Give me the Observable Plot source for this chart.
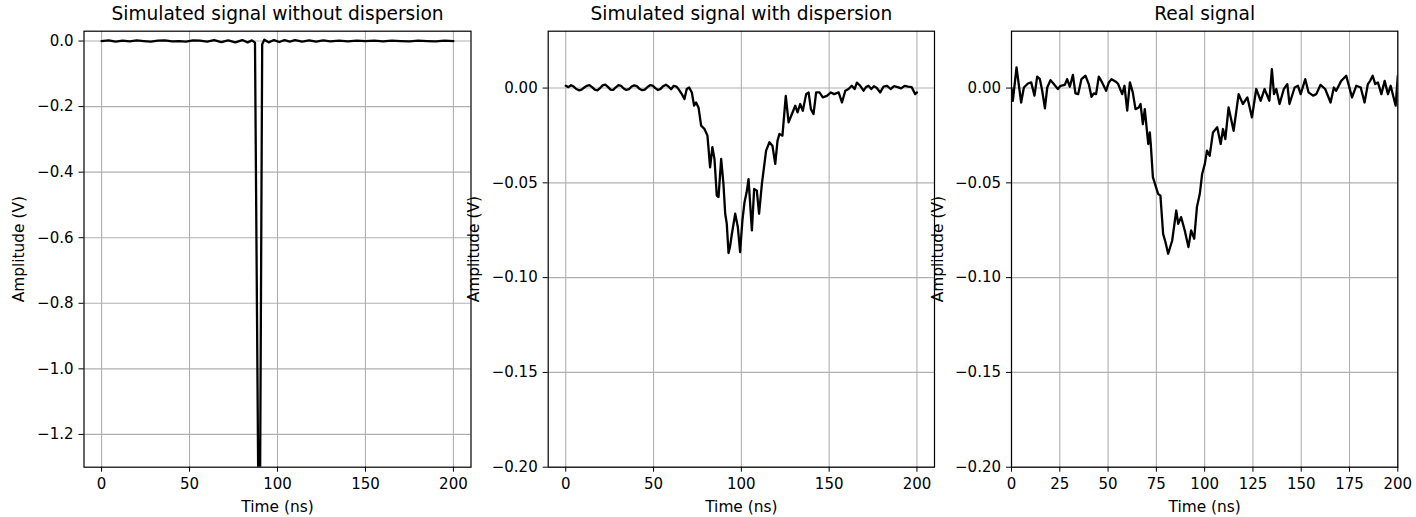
<!DOCTYPE html>
<html>
<head>
<meta charset="utf-8">
<script src="https://cdn.jsdelivr.net/npm/d3@7"></script>
<script src="https://cdn.jsdelivr.net/npm/@observablehq/plot@0.6"></script>
<style>
  html, body { margin: 0; padding: 0; background: #ffffff; }
  #chart { position: relative; width: 1416px; height: 517px; background: #ffffff; }
  #chart svg { position: absolute; left: 0; top: 0; overflow: visible; }
</style>
</head>
<body>
<div id="chart"></div>
<script>
// ---------- Data ----------
const titles = ["Simulated signal without dispersion", "Simulated signal with dispersion", "Real signal"];
const xLabel = "Time (ns)";
const yLabel = "Amplitude (V)";

const ticksX1 = [0, 50, 100, 150, 200];
const ticksX2 = [0, 50, 100, 150, 200];
const ticksX3 = [0, 25, 50, 75, 100, 125, 150, 175, 200];
const ticksY1 = [0, -0.2, -0.4, -0.6, -0.8, -1.0, -1.2];
const ticksY23 = [0, -0.05, -0.10, -0.15, -0.20];

// Panel 1: simulated without dispersion
const time1 = [0, 4, 8, 12, 16, 20, 24, 28, 32, 36, 40, 44, 48, 52, 56, 60, 64, 68, 72, 76, 80, 83, 85.5, 87.2, 89.2, 90.0, 91.3, 92.5, 95, 98, 101, 104, 107, 110, 114, 118, 122, 126, 130, 135, 140, 145, 150, 155, 160, 165, 170, 175, 180, 185, 190, 195, 200];
const amp1 = [0.000, 0.002, -0.002, 0.001, -0.001, 0.002, 0.000, -0.002, 0.001, 0.002, -0.001, 0.000, -0.002, 0.002, 0.001, -0.002, 0.003, -0.003, 0.002, -0.004, 0.003, -0.004, 0.002, -0.005, -1.45, -1.45, -0.010, 0.004, -0.004, 0.003, -0.003, 0.003, -0.002, 0.003, -0.002, 0.002, -0.002, 0.002, -0.001, 0.001, -0.001, 0.001, 0.000, 0.001, -0.001, 0.001, 0.000, -0.001, 0.001, 0.000, -0.001, 0.001, 0.000];

// Panel 2: simulated with dispersion
const time2 = [0, 1.5, 3, 4.5, 6, 7.5, 9, 10.5, 12, 13.5, 15, 16.5, 18, 19.5, 21, 22.5, 24, 25.5, 27, 28.5, 30, 31.5, 33, 34.5, 36, 37.5, 39, 40.5, 42, 43.5, 45, 46.5, 48, 49.5, 51, 52.5, 54, 55.5, 57, 58.5, 60, 61.5, 63, 64.2, 66.1, 67.6, 68.9, 70.3, 71.8, 73.1, 74.2, 75.6, 77.1, 79.0, 80.7, 82.2, 83.5, 84.7, 86.0, 87.0, 88.5, 89.8, 90.8, 91.7, 92.7, 93.5, 94.6, 96.5, 98.0, 99.3, 100.6, 101.8, 103.0, 104.1, 106.0, 107.3, 108.8, 110.1, 111.7, 114.1, 116.0, 117.7, 119.3, 120.6, 121.7, 123.4, 125.3, 126.9, 128.8, 130.7, 132.0, 133.5, 135.0, 136.9, 138.3, 139.6, 141.1, 142.6, 144.5, 146.4, 148.7, 151.0, 152.9, 155.4, 157.3, 159.2, 161.0, 162.9, 164.5, 165.8, 167.7, 169.6, 171, 172.4, 174, 175.5, 177, 179.1, 181, 183, 185, 187, 189, 191, 193, 195, 197, 199, 200];
const amp2 = [0.0012, 0.0005, 0.0015, 0.0008, -0.0005, -0.0012, -0.0008, 0.0003, 0.0012, 0.0015, 0.0005, -0.0008, -0.0012, 0.0000, 0.0014, 0.0018, 0.0006, -0.0008, -0.0010, 0.0004, 0.0015, 0.0012, -0.0002, -0.0010, -0.0006, 0.0008, 0.0014, 0.0010, -0.0004, -0.0011, -0.0008, 0.0005, 0.0015, 0.0013, 0.0000, -0.0010, -0.0004, 0.0010, 0.0018, 0.0008, -0.0006, 0.0012, 0.0008, -0.0005, -0.0032, -0.0058, -0.0005, 0.0003, -0.0023, -0.0093, -0.0076, -0.0102, -0.0198, -0.0216, -0.0251, -0.0418, -0.0312, -0.0374, -0.0567, -0.0575, -0.0374, -0.0505, -0.0663, -0.0716, -0.0870, -0.0840, -0.0770, -0.0663, -0.0733, -0.0865, -0.0698, -0.0602, -0.0550, -0.0480, -0.0751, -0.0532, -0.0541, -0.0663, -0.0505, -0.0330, -0.0286, -0.0304, -0.0400, -0.0277, -0.0242, -0.0251, -0.0041, -0.0181, -0.0137, -0.0093, -0.0128, -0.0084, -0.0120, -0.0032, -0.0023, -0.0111, -0.0137, -0.0023, -0.0023, -0.0049, -0.0041, -0.0023, -0.0032, -0.0023, -0.0076, -0.0014, -0.0005, 0.0012, -0.0005, 0.0029, 0.0012, -0.0014, 0.0005, 0.0012, -0.0005, 0.0010, 0.0002, -0.0023, 0.0008, 0.0012, -0.0005, 0.0010, 0.0005, -0.0002, 0.0012, 0.0008, 0.0005, -0.0032, -0.0023];

// Panel 3: real signal
const time3 = [0, 0.7, 2.6, 5.0, 6.4, 8.5, 10.2, 11.9, 13.3, 14.7, 15.9, 17.3, 18.5, 20.2, 21.9, 24.0, 25.4, 27.6, 28.8, 30.2, 31.8, 33.1, 34.5, 36.2, 38.3, 40.0, 41.4, 42.6, 43.8, 45.2, 46.9, 49.0, 50.4, 51.8, 53.8, 55.1, 57.3, 58.5, 59.9, 61.3, 62.8, 64.2, 65.9, 66.8, 68.0, 69.0, 70.8, 71.6, 72.1, 73.2, 75.9, 77.1, 78.5, 79.7, 81.1, 83.2, 85.3, 86.3, 87.8, 89.7, 91.6, 93.0, 94.6, 96.0, 97.5, 98.7, 100.1, 101.2, 102.6, 104.3, 106.5, 108.3, 109.5, 110.7, 112.4, 115.0, 117.6, 119.8, 122.1, 124.5, 126.7, 129.0, 131.0, 133.5, 134.8, 135.9, 137.1, 138.8, 141.0, 142.8, 143.9, 146.6, 148.3, 149.7, 152.1, 153.8, 156.1, 157.8, 160.0, 162.4, 165.2, 166.9, 168.1, 170.7, 173.3, 176.3, 178.5, 180.8, 182.8, 184.5, 185.7, 187.0, 188.3, 189.7, 191.5, 193.2, 194.9, 196.3, 198.9, 200];
const amp3 = [0.0000, -0.0067, 0.0109, -0.0076, 0.0003, 0.0024, 0.0030, -0.0040, 0.0060, 0.0047, -0.0014, -0.0107, 0.0003, 0.0042, 0.0021, -0.0005, 0.0012, 0.0017, 0.0047, 0.0007, 0.0070, -0.0028, -0.0032, 0.0047, 0.0065, 0.0021, -0.0046, -0.0028, -0.0032, 0.0060, 0.0030, -0.0014, 0.0030, 0.0047, 0.0035, 0.0024, -0.0032, 0.0012, -0.0119, 0.0030, -0.0023, -0.0111, -0.0102, -0.0084, -0.0190, -0.0111, -0.0295, -0.0234, -0.0295, -0.0470, -0.0558, -0.0567, -0.0769, -0.0812, -0.0874, -0.0804, -0.0646, -0.0716, -0.0681, -0.0751, -0.0839, -0.0751, -0.0795, -0.0628, -0.0558, -0.0453, -0.0400, -0.0330, -0.0357, -0.0234, -0.0207, -0.0295, -0.0216, -0.0269, -0.0102, -0.0225, -0.0032, -0.0084, -0.0049, -0.0155, -0.0005, -0.0067, -0.0005, -0.0067, 0.0100, -0.0032, -0.0005, -0.0084, -0.0005, 0.0021, -0.0084, 0.0003, 0.0012, -0.0032, 0.0047, -0.0023, -0.0040, -0.0032, 0.0017, -0.0005, -0.0076, 0.0003, -0.0014, 0.0038, 0.0065, -0.0049, 0.0012, 0.0003, -0.0076, 0.0021, 0.0038, 0.0065, 0.0021, 0.0030, -0.0032, 0.0038, -0.0032, 0.0012, -0.0093, 0.0065];

// ---------- Drawing ----------
const W = 1416, H = 517;
const FONT = "DejaVu Sans, Liberation Sans, sans-serif";
const TICK_FS = 15, LABEL_FS = 15.4, TITLE_FS = 18.6;
const frameTop = 30.7, frameBottom = 466.7;

const fmt = (digits) => (d) => (d < 0 ? "\u2212" : "") + Math.abs(d).toFixed(digits);

const panels = [
  {left: 83.5, right: 470.5, xDomain: [-10, 210], yDomain: [-1.3, 0.03], xTicks: ticksX1, yTicks: ticksY1, yDigits: 1, t: time1, a: amp1, title: titles[0], yLabelDx: -65},
  {left: 547.7, right: 934, xDomain: [-10, 210], yDomain: [-0.2, 0.03], xTicks: ticksX2, yTicks: ticksY23, yDigits: 2, t: time2, a: amp2, title: titles[1], yLabelDx: -74},
  {left: 1011, right: 1397.3, xDomain: [0, 200], yDomain: [-0.2, 0.03], xTicks: ticksX3, yTicks: ticksY23, yDigits: 2, t: time3, a: amp3, title: titles[2], yLabelDx: -73}
];

const chart = document.getElementById("chart");

for (const p of panels) {
  const data = p.t.map((t, i) => ({t, v: p.a[i]}));
  const svg = Plot.plot({
    width: W,
    height: H,
    marginLeft: p.left,
    marginRight: W - p.right,
    marginTop: frameTop,
    marginBottom: H - frameBottom,
    style: {fontFamily: FONT, fontSize: TICK_FS + "px", color: "black", background: "transparent", overflow: "visible"},
    x: {domain: p.xDomain},
    y: {domain: p.yDomain},
    marks: [
      Plot.gridX(p.xTicks, {stroke: "#b0b0b0", strokeOpacity: 1, strokeWidth: 1.1}),
      Plot.gridY(p.yTicks, {stroke: "#b0b0b0", strokeOpacity: 1, strokeWidth: 1.1}),
      Plot.line(data, {x: "t", y: "v", stroke: "black", strokeWidth: 2.3, clip: true, strokeLinejoin: "round"}),
      Plot.frame({stroke: "black", strokeWidth: 1.2}),
      Plot.axisX(p.xTicks, {tickSize: 5, tickPadding: 6, fontSize: TICK_FS, label: null, tickFormat: (d) => String(d)}),
      Plot.axisY(p.yTicks, {tickSize: 5, tickPadding: 5.5, fontSize: TICK_FS, label: null, tickFormat: fmt(p.yDigits)}),
      Plot.text([p.title], {text: (d) => d, frameAnchor: "top", textAnchor: "middle", lineAnchor: "middle", dy: -17, fontSize: TITLE_FS, fill: "black"}),
      Plot.text([xLabel], {text: (d) => d, frameAnchor: "bottom", textAnchor: "middle", lineAnchor: "middle", dy: 39.5, fontSize: LABEL_FS, fill: "black"}),
      Plot.text([yLabel], {text: (d) => d, frameAnchor: "left", textAnchor: "middle", lineAnchor: "middle", rotate: -90, dx: p.yLabelDx, fontSize: LABEL_FS, fill: "black"})
    ]
  });
  chart.appendChild(svg);
}
</script>
</body>
</html>
